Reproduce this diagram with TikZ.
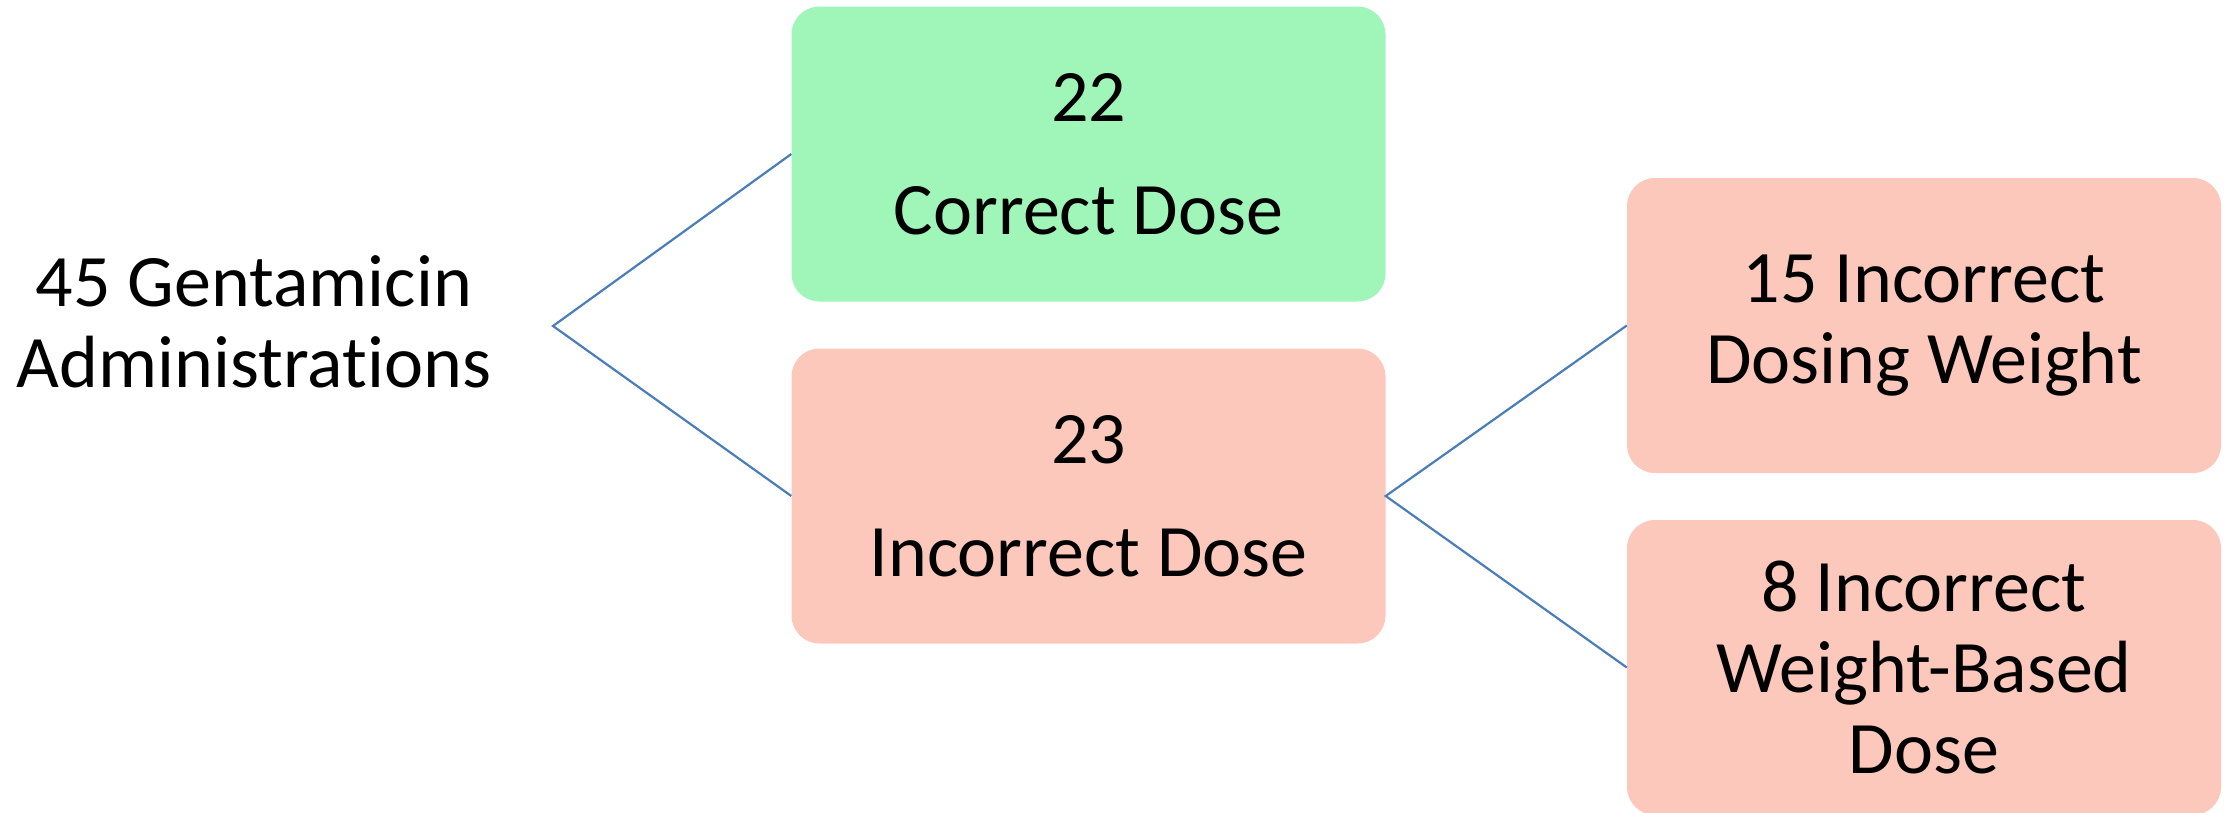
\documentclass[tikz,border=0pt]{standalone}
\usepackage{fontspec}
\setmainfont{Carlito}[Ligatures=NoCommon, RawFeature={-liga;-clig;-calt}]
\definecolor{okgreen}{RGB}{160,245,185}
\definecolor{badpink}{RGB}{252,200,187}
\definecolor{linkblue}{RGB}{74,126,187}
\begin{document}
\begin{tikzpicture}[x=1pt,y=-1pt,
  txt/.style={font=\fontsize{74pt}{81pt}\selectfont, align=center, text=black},
  card/.style={txt, rounded corners=28pt, inner sep=0pt,
    minimum width=594pt, minimum height=295pt},
  goodcard/.style={card, fill=okgreen},
  badcard/.style={card, fill=badpink},
  link/.style={draw=linkblue, line width=2.2pt, line join=miter}]
  \useasboundingbox (0,0) rectangle (2228,812);
  \clip (0,0) rectangle (2228,812);

  % root label and branching point
  \node[txt] (root) at (254,322) {45 Gentamicin\\Administrations};
  \coordinate (fork) at (553,326);

  % first level
  \node[goodcard] (correct) at (1088.5,154) {22\\[32pt]Correct Dose};
  \node[badcard] (incorrect) at (1088.5,496) {23\\[32pt]Incorrect Dose};

  % second level
  \node[badcard] (weight) at (1924,325.5) {15 Incorrect\\Dosing Weight};
  \node[badcard] (based) at (1924,667.5) {8 Incorrect\\Weight-Based\\Dose};

  % connectors
  \draw[link] (correct.west) -- (fork) -- (incorrect.west);
  \draw[link] (weight.west) -- (incorrect.east) -- (based.west);
\end{tikzpicture}
\end{document}
